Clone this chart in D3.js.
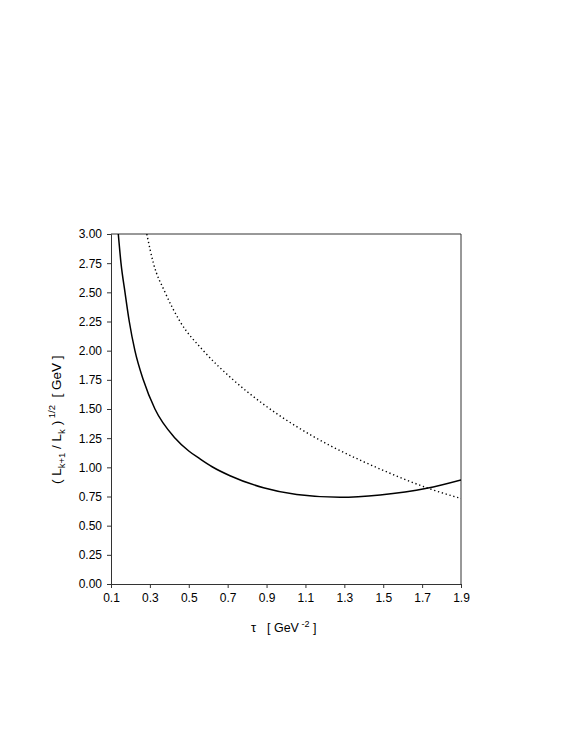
<!DOCTYPE html>
<html>
<head>
<meta charset="utf-8">
<script src="https://cdn.jsdelivr.net/npm/d3@7"></script>
<style>
  body { margin: 0; background: #fff; }
  text { font-family: "Liberation Sans", Arial, sans-serif; fill: #000; white-space: pre; }
</style>
</head>
<body>
<svg id="chart" width="575" height="747"></svg>
<script>
const xTicks = [0.1, 0.3, 0.5, 0.7, 0.9, 1.1, 1.3, 1.5, 1.7, 1.9];
const yTicks = [0, 0.25, 0.5, 0.75, 1.0, 1.25, 1.5, 1.75, 2.0, 2.25, 2.5, 2.75, 3.0];

const solidTau = [0.1375, 0.1514, 0.172, 0.194, 0.223, 0.266, 0.326, 0.43, 0.5, 0.558, 0.62, 0.712, 0.884, 1.055, 1.278, 1.484, 1.724, 1.9];
const solidVal = [3.0, 2.75, 2.5, 2.25, 2.0, 1.75, 1.5, 1.25, 1.14, 1.072, 1.005, 0.928, 0.825, 0.767, 0.743, 0.763, 0.82, 0.892];

const dottedTau = [0.284, 0.318, 0.378, 0.455, 0.575, 0.725, 0.893, 1.055, 1.227, 1.398, 1.57, 1.741, 1.9];
const dottedVal = [3.0, 2.75, 2.5, 2.25, 2.0, 1.755, 1.53, 1.349, 1.186, 1.049, 0.925, 0.815, 0.733];

const svg = d3.select("#chart");
const L = 111, R = 461, T = 234, B = 584;
const x = d3.scaleLinear().domain([0.1, 1.9]).range([L, R]);
const y = d3.scaleLinear().domain([0, 3]).range([B, T]);
const axisColor = "#333";

svg.append("defs").append("clipPath").attr("id", "clip")
  .append("rect").attr("x", L).attr("y", T).attr("width", R - L).attr("height", B - T);

// frame top/right
svg.append("line").attr("x1", L).attr("x2", R).attr("y1", T).attr("y2", T).attr("stroke", axisColor);
svg.append("line").attr("x1", R).attr("x2", R).attr("y1", T).attr("y2", B).attr("stroke", axisColor);

const gx = svg.append("g").attr("transform", `translate(0,${B})`)
  .call(d3.axisBottom(x).tickValues(xTicks).tickFormat(d3.format(".1f")).tickSizeOuter(0).tickSize(4).tickPadding(5));
const gy = svg.append("g").attr("transform", `translate(${L},0)`)
  .call(d3.axisLeft(y).tickValues(yTicks).tickFormat(d3.format(".2f")).tickSizeOuter(0).tickSize(4).tickPadding(5));
[gx, gy].forEach(g => {
  g.select(".domain").attr("stroke", axisColor);
  g.selectAll(".tick line").attr("stroke", axisColor);
  g.selectAll(".tick text").attr("font-size", 12).attr("font-family", "Liberation Sans, Arial, sans-serif").attr("fill", "#000");
});

const line = d3.line().x(d => x(d[0])).y(d => y(d[1])).curve(d3.curveMonotoneX);
const solid = solidTau.map((t, i) => [t, solidVal[i]]);
const dotted = dottedTau.map((t, i) => [t, dottedVal[i]]);

svg.append("path").datum(solid).attr("clip-path", "url(#clip)")
  .attr("d", line).attr("fill", "none").attr("stroke", "#000").attr("stroke-width", 1.5);
svg.append("path").datum(dotted).attr("clip-path", "url(#clip)")
  .attr("d", line).attr("fill", "none").attr("stroke", "#000").attr("stroke-width", 1.4)
  .attr("stroke-dasharray", "1.3,2.7");

// x label
svg.append("text").attr("x", 251).attr("y", 632).attr("font-size", 13).text("τ");
const xl = svg.append("text").attr("x", 267).attr("y", 632).attr("font-size", 12.5);
xl.append("tspan").text("[ GeV");
xl.append("tspan").attr("dy", -5).attr("font-size", 9).text(" -2");
xl.append("tspan").attr("dy", 5).text(" ]");

// y label
const yl = svg.append("text").attr("font-size", 13.5).attr("text-anchor", "start")
  .attr("transform", "translate(61,484) rotate(-90)");
yl.append("tspan").text("( L");
yl.append("tspan").attr("dy", 4).attr("font-size", 9.5).text("k+1");
yl.append("tspan").attr("dy", -4).text(" / L");
yl.append("tspan").attr("dy", 4).attr("font-size", 9.5).text("k");
yl.append("tspan").attr("dy", -4).text(" )");
yl.append("tspan").attr("dy", -6).attr("font-size", 9.5).text(" 1/2");
yl.append("tspan").attr("dy", 6).text("  [ GeV ]");
</script>
</body>
</html>
